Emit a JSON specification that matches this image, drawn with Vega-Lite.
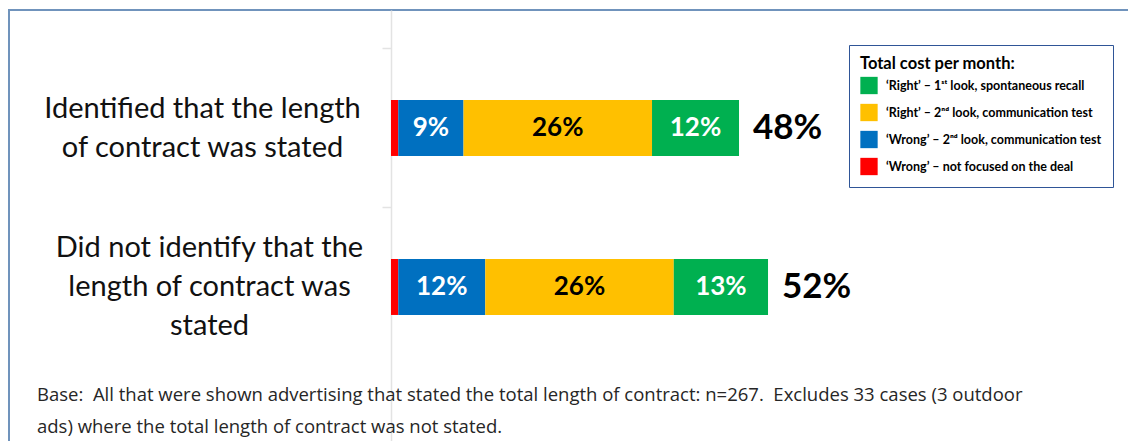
{
  "$schema": "https://vega.github.io/schema/vega-lite/v6.json",
  "autosize": {"type": "none"},
  "padding": {"left": 9, "top": 10, "right": -10, "bottom": -20},
  "width": 1129,
  "height": 451,
  "background": "white",
  "config": {"view": {"stroke": "#7093BC", "strokeWidth": 2}},
  "title": {
    "text": ["Base:\u00a0 All that were shown advertising that stated the total length of contract: n=267.\u00a0 Excludes 33 cases (3 outdoor", "ads) where the total length of contract was not stated."],
    "orient": "bottom",
    "anchor": "start",
    "frame": "group",
    "font": "Open Sans",
    "fontSize": 18.5,
    "fontWeight": "normal",
    "color": "#262626",
    "lineHeight": 32,
    "offset": -75,
    "dx": 28,
    "baseline": "top"
  },
  "data": {
    "values": [
      {"cat": "Identified that the length of contract was stated", "series": "‘Wrong’ – not focused on the deal", "value": 0.01},
      {"cat": "Identified that the length of contract was stated", "series": "‘Wrong’ – 2ⁿᵈ look, communication test", "value": 0.09},
      {"cat": "Identified that the length of contract was stated", "series": "‘Right’ – 2ⁿᵈ look, communication test", "value": 0.26},
      {"cat": "Identified that the length of contract was stated", "series": "‘Right’ – 1ˢᵗ look, spontaneous recall", "value": 0.12},
      {"cat": "Did not identify that the length of contract was stated", "series": "‘Wrong’ – not focused on the deal", "value": 0.01},
      {"cat": "Did not identify that the length of contract was stated", "series": "‘Wrong’ – 2ⁿᵈ look, communication test", "value": 0.12},
      {"cat": "Did not identify that the length of contract was stated", "series": "‘Right’ – 2ⁿᵈ look, communication test", "value": 0.26},
      {"cat": "Did not identify that the length of contract was stated", "series": "‘Right’ – 1ˢᵗ look, spontaneous recall", "value": 0.13}
    ]
  },
  "transform": [
    {"stack": "value", "groupby": ["cat"], "sort": [{"field": "series", "order": "descending"}], "as": ["v0", "v1"]}
  ],
  "layer": [
    {
      "mark": {"type": "bar"},
      "encoding": {
        "y": {
          "field": "cat", "type": "nominal", "sort": null,
          "scale": {"paddingInner": 0.648, "paddingOuter": 0.7422, "align": 0.3813},
          "axis": {
            "title": null,
            "orient": "left",
            "offset": -382,
            "domainColor": "#E3E3E3",
            "domainWidth": 1.5,
            "tickColor": "#E3E3E3",
            "tickWidth": 1.5,
            "tickSize": 9,
            "tickOffset": -80,
            "labelOffset": {"condition": {"test": "datum.value[0] == 'I'", "value": 60.5}, "value": 40.5},
            "labelPadding": {"condition": {"test": "datum.value[0] == 'I'", "value": 180}, "value": 173},
            "labelFont": "Lato",
            "labelFontSize": 29,
            "labelColor": "#111111",
            "labelAlign": "center",
            "labelBaseline": "middle",
            "labelLineHeight": 39,
            "labelLimit": 500,
            "labelExpr": "datum.value[0] == 'I' ? ['Identified that the length', 'of contract was stated'] : ['Did not identify that the', 'length of contract was', 'stated']"
          }
        },
        "x": {"field": "v0", "type": "quantitative", "scale": {"domain": [-0.5269, 1.0303], "nice": false, "zero": false}, "axis": null},
        "x2": {"field": "v1"},
        "color": {
          "field": "series", "type": "nominal",
          "scale": {
            "domain": ["‘Right’ – 1ˢᵗ look, spontaneous recall", "‘Right’ – 2ⁿᵈ look, communication test", "‘Wrong’ – 2ⁿᵈ look, communication test", "‘Wrong’ – not focused on the deal"],
            "range": ["#00B050", "#FFC000", "#0070C0", "#FF0000"]
          },
          "legend": {
            "orient": "none",
            "legendX": 840,
            "legendY": 35,
            "title": "Total cost per month:",
            "titleFont": "Lato",
            "titleFontSize": 16.5,
            "titleFontWeight": "bold",
            "titleColor": "#000000",
            "titlePadding": 4,
            "labelFont": "Lato",
            "labelFontSize": 12.5,
            "labelFontWeight": "bold",
            "labelColor": "#000000",
            "labelLimit": 300,
            "labelOffset": 8,
            "symbolType": "square",
            "symbolSize": 300,
            "symbolStrokeWidth": 0,
            "rowPadding": 9,
            "padding": 11,
            "strokeColor": "#2F5597",
            "fillColor": "#FFFFFF"
          }
        }
      }
    },
    {
      "transform": [
        {"filter": "datum.value > 0.02"},
        {"calculate": "(datum.v0 + datum.v1) / 2", "as": "mid"}
      ],
      "mark": {"type": "text", "font": "Lato", "fontWeight": "bold", "fontSize": 26, "align": "center", "baseline": "middle"},
      "encoding": {
        "y": {"field": "cat", "type": "nominal", "sort": null},
        "x": {"field": "mid", "type": "quantitative"},
        "text": {"field": "value", "type": "quantitative", "format": ".0%"},
        "fill": {"condition": {"test": "datum.value > 0.2", "value": "#000000"}, "value": "#FFFFFF"}
      }
    },
    {
      "transform": [{"aggregate": [{"op": "sum", "field": "value", "as": "total"}], "groupby": ["cat"]}],
      "mark": {"type": "text", "font": "Lato", "fontWeight": "bold", "fontSize": 35, "align": "left", "baseline": "middle", "dx": 14, "color": "#000000"},
      "encoding": {
        "y": {"field": "cat", "type": "nominal", "sort": null},
        "x": {"field": "total", "type": "quantitative"},
        "text": {"field": "total", "type": "quantitative", "format": ".0%"}
      }
    }
  ]
}
